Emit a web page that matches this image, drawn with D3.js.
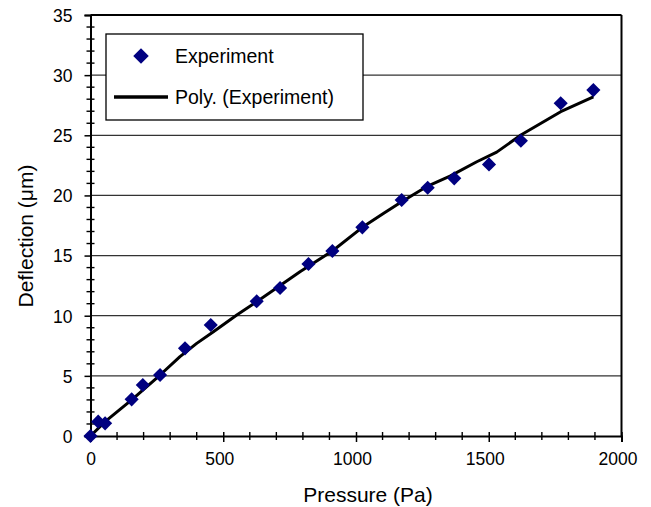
<!DOCTYPE html>
<html><head><meta charset="utf-8">
<script src="https://cdn.jsdelivr.net/npm/d3@7"></script>
<style>body{margin:0;background:#fff}svg{display:block}text{font-family:"Liberation Sans",Arial,sans-serif;fill:#000}</style>
</head><body><svg id="c" width="651" height="507"></svg>
<script>
const pressure   = [0, 29, 55, 155, 197, 262, 356, 453, 626, 714, 821, 911, 1024, 1172, 1270, 1370, 1501, 1621, 1771, 1894];
const deflection = [0, 1.19, 1.05, 3.05, 4.24, 5.07, 7.29, 9.23, 11.2, 12.3, 14.3, 15.38, 17.35, 19.62, 20.64, 21.42, 22.58, 24.55, 27.66, 28.76];
const trendX = [0, 55, 155, 262, 337, 400, 463, 551, 626, 789, 911, 1024, 1103, 1172, 1270, 1354, 1455, 1530, 1621, 1771, 1894];
const trendY = [0, 1.19, 3.0, 5.07, 6.6, 7.7, 8.67, 10.06, 11.16, 13.66, 15.38, 17.35, 18.5, 19.48, 20.78, 21.6, 22.8, 23.6, 25.02, 26.96, 28.2];
const xTicks = [0, 500, 1000, 1500, 2000];
const yTicks = [0, 5, 10, 15, 20, 25, 30, 35];
const legendLabels = ["Experiment", "Poly. (Experiment)"];

const svg = d3.select("#c");
const L = 90.5, R = 621.5, T = 15, B = 436;
const x = d3.scaleLinear().domain([0, 2000]).range([L, R]);
const y = d3.scaleLinear().domain([0, 35]).range([B, T]);

// gridlines
svg.append("g").selectAll("line").data(yTicks.filter(d => d > 0 && d < 35)).join("line")
  .attr("x1", L).attr("x2", R).attr("y1", d => y(d)).attr("y2", d => y(d))
  .attr("stroke", "#333").attr("stroke-width", 1.3);
// top & right border
svg.append("line").attr("x1", L).attr("x2", R).attr("y1", T).attr("y2", T).attr("stroke", "#000").attr("stroke-width", 2);
svg.append("line").attr("x1", R).attr("x2", R).attr("y1", T).attr("y2", B).attr("stroke", "#000").attr("stroke-width", 2);

// minor ticks
const yMinor = d3.range(0, 36, 1).filter(d => d % 5 !== 0);
svg.append("g").selectAll("line").data(yMinor).join("line")
  .attr("x1", L - 4).attr("x2", L + 4).attr("y1", d => y(d)).attr("y2", d => y(d))
  .attr("stroke", "#000").attr("stroke-width", 1.4);
const xMinor = d3.range(100, 2000, 100).filter(d => d % 500 !== 0);
svg.append("g").selectAll("line").data(xMinor).join("line")
  .attr("x1", d => x(d)).attr("x2", d => x(d)).attr("y1", B - 4).attr("y2", B + 4)
  .attr("stroke", "#000").attr("stroke-width", 1.4);

// axes
const yAxis = d3.axisLeft(y).tickValues(yTicks).tickSize(6).tickPadding(12).tickFormat(d3.format("d"));
const gy = svg.append("g").attr("transform", `translate(${L},0)`).call(yAxis);
const xAxis = d3.axisBottom(x).tickValues(xTicks).tickSize(6).tickPadding(11).tickFormat(d3.format("d"));
const gx = svg.append("g").attr("transform", `translate(0,${B})`).call(xAxis);
[gx, gy].forEach(g => {
  g.select(".domain").attr("stroke", "#000").attr("stroke-width", 2);
  g.selectAll(".tick line").attr("stroke", "#000").attr("stroke-width", 1.5);
  g.selectAll(".tick text").style("font-size", "17.5px").style("font-family", '"Liberation Sans",Arial,sans-serif').attr("fill", "#000");
});
gx.selectAll(".tick line").attr("y1", -4);
gx.selectAll(".tick text").attr("dx", d => d === 0 ? 0 : -4);
gy.selectAll(".tick text").attr("dy", "0.36em");

// trend line
svg.append("path").datum(trendX.map((d, i) => [d, trendY[i]]))
  .attr("d", d3.line().x(d => x(d[0])).y(d => y(d[1])))
  .attr("fill", "none").attr("stroke", "#000").attr("stroke-width", 3).attr("stroke-linejoin", "round");

// points
const diamond = d3.symbol().type(d3.symbolSquare).size(100);
svg.append("g").selectAll("path").data(pressure.map((d, i) => [d, deflection[i]])).join("path")
  .attr("d", diamond)
  .attr("transform", d => `translate(${x(d[0])},${y(d[1])}) rotate(45)`)
  .attr("fill", "#000080");

// legend
const lg = svg.append("g");
lg.append("rect").attr("x", 106).attr("y", 34).attr("width", 257).attr("height", 86)
  .attr("fill", "#fff").attr("stroke", "#000").attr("stroke-width", 1.3);
lg.append("path").attr("d", d3.symbol().type(d3.symbolSquare).size(120)).attr("transform", "translate(141,56) rotate(45)").attr("fill", "#000080");
lg.append("line").attr("x1", 114).attr("x2", 168).attr("y1", 97).attr("y2", 97).attr("stroke", "#000").attr("stroke-width", 3.5);
lg.selectAll("text").data(legendLabels).join("text")
  .attr("x", 175).attr("y", (d, i) => i ? 103.5 : 62.7)
  .style("font-size", "19.5px").text(d => d);

// axis titles
svg.append("text").attr("x", 368).attr("y", 502).attr("text-anchor", "middle").style("font-size", "21px").text("Pressure (Pa)");
svg.append("text").attr("transform", `translate(25,236) rotate(-90)`).attr("text-anchor", "middle").attr("dy", "0.36em").style("font-size", "21px").text("Deflection (μm)");
</script></body></html>
